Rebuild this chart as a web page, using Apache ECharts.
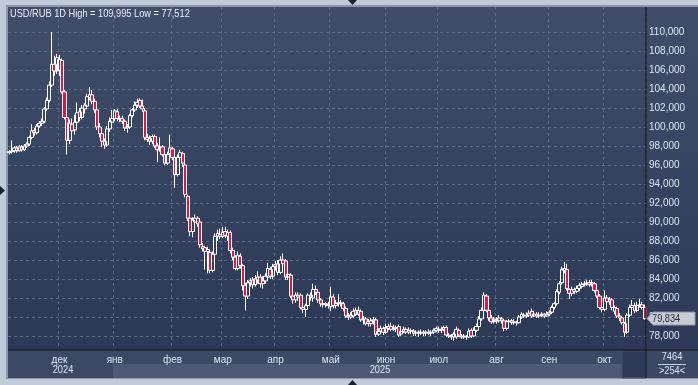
<!DOCTYPE html>
<html><head><meta charset="utf-8">
<script src="https://cdn.jsdelivr.net/npm/echarts@6/dist/echarts.min.js"></script>
<style>html,body{margin:0;padding:0;background:#bfcbd9;}#c{width:698px;height:385px;}</style>
</head><body><div id="c"></div>
<script>
// ---------- DATA ----------
const titleText = 'USD/RUB 1D High = 109,995 Low = 77,512';
const firstDate = '2024-11-04';           // first trading day shown
const monthNames = ['янв','фев','мар','апр','май','июн','июл','авг','сен','окт','ноя','дек'];
const yearLabels = ['2024', '2025'];
const yTickMin = 78, yTickMax = 110, yTickStep = 2;
const lastPrice = 79.834;
const totalBars = '7464';
const visibleBars = '>254<';
// daily candles: [open, close, low, high]
const ohlc = [
[97.3,97.4,97.1,97.6],[97.4,97.5,97.2,98.6],[97.5,97.8,97.3,98.0],[97.8,97.5,97.3,98.0],[97.5,97.9,97.4,98.1],
[97.9,97.6,97.4,98.1],[97.6,98.0,97.5,98.2],[98.0,98.2,97.8,98.4],[98.2,98.9,98.0,99.1],[98.9,99.6,98.7,100.3],
[99.6,99.4,99.1,99.9],[99.4,100.1,99.2,100.3],[100.1,100.4,99.9,100.6],[100.4,100.6,100.1,100.9],[100.6,101.9,100.4,102.1],
[101.9,102.8,101.7,103.1],[102.8,104.4,102.6,104.8],[104.4,106.6,104.2,109.995],[106.6,105.9,105.4,107.5],[105.9,107.3,105.6,107.7],
[106.0,107.1,105.4,107.6],[107.0,103.7,103.5,107.2],[103.7,101.0,100.8,103.9],[101.0,98.6,97.1,101.3],[98.6,100.4,98.2,100.8],
[100.3,99.6,98.6,100.9],[99.7,100.5,99.2,101.3],[100.5,101.5,100.1,102.6],[101.6,101.0,100.6,102.0],[101.0,102.0,100.8,102.3],
[101.9,102.3,101.4,102.5],[102.2,103.2,101.9,103.5],[103.1,103.4,102.8,104.2],[103.4,102.7,102.4,103.9],[102.7,101.8,101.5,103.0],
[101.8,100.0,99.7,102.0],[100.0,99.3,98.9,100.4],[99.3,98.5,97.9,99.6],[98.5,98.1,97.7,98.8],[98.1,99.8,97.9,100.1],
[99.8,100.6,99.5,101.0],[100.5,100.9,100.2,101.8],[100.9,101.7,100.6,101.9],[101.6,100.9,100.6,101.9],[100.8,100.9,100.5,101.2],
[100.9,100.6,100.3,101.2],[100.6,99.9,99.6,100.8],[99.9,100.0,99.4,100.3],[100.0,101.2,99.8,101.4],[101.2,101.8,101.0,102.0],
[101.8,102.3,101.6,102.7],[102.3,102.6,102.0,103.0],[102.8,102.2,102.0,103.0],[102.2,101.9,101.6,102.9],[101.7,98.9,98.6,102.0],
[98.9,98.7,98.4,99.3],[98.8,98.5,98.1,99.1],[98.5,99.0,98.2,99.2],[99.0,98.0,97.8,99.2],[98.0,97.6,96.3,98.3],
[97.6,97.9,97.4,98.9],[97.9,97.1,96.9,98.1],[97.1,96.2,96.0,97.4],[96.2,97.1,96.0,97.4],[97.2,97.8,97.0,99.2],
[97.7,96.8,96.5,97.9],[96.8,95.0,93.6,96.9],[95.0,96.8,94.8,97.1],[96.8,97.3,96.4,97.6],[97.2,96.2,95.8,97.4],
[96.0,92.9,92.6,96.2],[92.7,90.4,90.1,92.9],[90.4,89.0,88.5,90.6],[89.0,90.2,88.4,90.5],[90.0,90.4,89.6,90.8],
[90.4,89.8,89.5,90.6],[90.0,87.6,87.3,90.3],[87.4,87.2,86.9,87.8],[87.3,86.9,85.0,87.5],[86.9,87.1,84.6,87.4],
[86.8,84.9,84.6,87.1],[84.9,86.6,84.7,86.9],[86.6,88.5,86.4,88.8],[88.5,88.8,88.0,89.2],[88.7,88.5,88.2,89.3],
[88.5,88.9,88.3,89.5],[89.0,88.6,88.3,89.5],[88.5,88.9,88.0,89.2],[88.9,87.0,86.7,89.1],[87.0,86.3,86.0,87.3],
[86.3,85.1,84.9,86.5],[85.1,86.5,84.9,86.9],[86.4,85.4,85.1,86.7],[85.4,83.3,82.8,85.6],[83.3,82.2,80.7,83.6],
[82.2,83.6,81.9,83.9],[83.6,83.8,83.2,84.1],[83.9,83.4,83.0,84.2],[83.4,84.0,83.2,84.4],[83.9,84.2,83.5,84.8],
[84.2,83.5,83.1,84.5],[83.5,83.8,83.0,84.3],[83.8,84.3,83.5,84.6],[84.2,85.1,84.0,85.7],[85.0,84.3,84.0,85.3],
[84.3,85.3,84.0,85.6],[85.3,85.5,84.9,85.9],[85.6,84.7,84.4,86.0],[84.7,86.0,84.5,86.4],[86.0,85.6,85.3,86.7],
[85.9,84.2,83.9,86.1],[84.2,84.5,83.9,84.8],[84.4,82.2,82.0,84.6],[82.2,81.8,81.4,82.5],[81.8,82.3,81.5,82.6],
[82.3,82.1,81.7,82.6],[82.3,81.0,80.8,82.5],[81.0,80.8,80.4,81.5],[80.8,81.2,80.0,81.4],[81.2,82.3,81.0,82.5],
[82.3,82.1,81.7,82.6],[82.0,82.9,81.6,83.5],[82.9,82.6,82.3,83.3],[82.6,81.8,81.5,82.8],[81.8,81.4,81.1,82.0],
[81.4,81.3,81.0,81.6],[81.3,81.4,81.0,81.6],[81.3,81.2,80.9,81.6],[81.1,82.1,80.6,83.2],[82.1,81.2,80.9,82.4],
[81.2,81.4,80.9,81.8],[81.4,81.5,81.1,82.4],[81.5,81.4,81.1,81.8],[81.4,80.9,80.6,81.6],[80.9,80.1,79.9,81.1],
[80.1,80.0,79.7,80.4],[80.0,80.2,79.8,80.5],[80.1,80.6,79.9,80.9],[80.7,80.3,80.1,81.0],[80.3,80.7,80.1,81.1],
[80.6,79.7,79.5,80.8],[79.7,79.8,79.2,80.1],[79.8,79.3,79.1,80.0],[79.5,79.3,79.0,79.8],[79.3,79.6,79.0,79.9],
[79.6,79.7,79.2,80.0],[79.7,78.2,77.9,79.9],[78.2,78.5,78.0,78.8],[78.5,78.8,78.2,79.1],[78.8,78.4,78.1,79.0],
[78.4,78.9,78.2,79.3],[78.8,79.0,78.6,79.3],[79.0,78.7,78.5,79.4],[78.7,78.8,78.5,79.2],[78.8,78.9,78.4,79.1],
[79.0,78.1,77.9,79.2],[78.2,78.5,78.0,78.8],[78.5,78.7,78.3,79.0],[78.7,78.4,78.2,78.9],[78.4,78.6,78.2,78.9],
[78.5,78.6,78.2,78.8],[78.5,78.3,78.0,78.7],[78.3,78.4,78.0,78.6],[78.4,78.3,77.9,78.6],[78.3,78.4,78.1,78.7],
[78.4,78.3,78.0,78.6],[78.3,78.4,78.0,78.6],[78.4,78.3,78.1,78.7],[78.3,78.4,78.0,78.6],[78.4,78.6,78.2,78.8],
[78.6,78.8,78.4,79.0],[78.7,78.6,78.3,79.0],[78.6,78.7,78.3,79.0],[78.7,78.9,78.5,79.1],[78.9,78.1,77.9,79.1],
[78.1,78.0,77.8,78.3],[78.0,77.9,77.6,78.2],[77.9,78.2,77.512,78.4],[77.9,78.7,77.7,79.0],[78.6,78.1,77.9,78.8],
[78.0,77.9,77.7,78.2],[77.9,78.0,77.7,78.2],[77.9,77.95,77.6,78.1],[77.9,78.5,77.8,78.8],[78.6,78.0,77.8,78.8],
[78.0,78.6,77.9,78.9],[78.6,79.0,78.4,79.3],[79.0,79.8,78.8,80.1],[79.8,80.7,79.6,81.0],[80.7,82.3,80.5,82.6],
[82.2,80.7,80.5,82.4],[80.7,79.9,79.6,80.9],[79.9,79.5,79.3,80.2],[79.5,79.8,79.3,80.0],[79.7,79.6,79.3,80.0],
[79.6,79.9,79.4,80.2],[79.8,79.6,79.3,80.0],[79.6,78.8,78.5,79.7],[78.8,79.5,78.6,79.7],[79.5,79.6,79.2,79.8],
[79.6,79.4,79.2,79.8],[79.4,79.5,79.2,79.8],[79.4,79.4,79.1,79.6],[79.4,80.0,79.3,80.2],[80.0,80.3,79.8,80.5],
[80.2,80.1,79.9,80.4],[80.1,80.2,79.9,80.5],[80.2,80.4,80.0,80.7],[80.6,80.1,79.9,80.9],[80.1,80.3,80.0,80.6],
[80.3,80.1,79.9,80.5],[80.1,80.2,79.9,80.5],[80.2,80.3,80.0,80.5],[80.3,80.1,79.9,80.4],[80.1,80.3,80.0,80.6],
[80.3,80.5,80.1,80.7],[80.5,81.0,80.3,81.2],[81.0,81.4,80.8,81.6],[81.4,82.7,81.2,82.9],[82.6,83.5,82.4,83.8],
[83.6,85.0,83.4,85.3],[84.9,85.1,84.6,85.8],[85.0,83.0,82.8,85.6],[82.9,82.5,81.9,83.0],[82.5,82.9,82.2,83.2],
[82.9,82.7,82.4,83.1],[82.7,83.0,82.5,83.3],[83.0,83.3,82.7,83.6],[83.2,83.4,83.0,83.7],[83.4,83.5,83.2,83.8],
[83.5,83.6,83.3,83.9],[83.6,83.4,83.2,83.9],[83.4,83.6,83.2,83.9],[83.5,82.8,82.6,83.7],[82.8,82.2,82.0,83.0],
[82.2,81.0,80.8,82.4],[81.0,80.8,80.5,81.3],[80.8,82.0,80.6,82.8],[82.0,81.6,81.3,82.3],[81.6,81.8,81.3,82.1],
[81.8,81.0,80.7,82.0],[81.0,80.6,80.3,81.2],[80.9,80.1,79.9,81.1],[80.1,79.9,79.6,80.4],[79.9,79.4,79.2,80.0],
[79.3,78.4,77.9,79.5],[78.4,80.2,78.2,80.4],[80.2,81.0,80.0,81.3],[81.0,81.2,80.7,81.8],[81.2,80.7,80.4,81.5],
[80.7,81.2,80.5,81.6],[81.2,81.3,81.0,81.9],[81.3,81.0,80.8,81.6],[81.0,79.834,79.7,81.3]
];

// ---------- CATEGORIES (weekday dates) ----------
const dates = [];
{
  const d = new Date(firstDate + 'T00:00:00Z');
  while (dates.length < ohlc.length) {
    const wd = d.getUTCDay();
    if (wd !== 0 && wd !== 6) dates.push(d.toISOString().slice(0, 10));
    d.setUTCDate(d.getUTCDate() + 1);
  }
}
const isMonthStart = (i) => i > 0 && dates[i].slice(5, 7) !== dates[i - 1].slice(5, 7);

// ---------- LAYOUT / STYLE ----------
const FONT = "'Liberation Sans', Arial, sans-serif";
const L = { left: 8, top: 7, width: 638, height: 343, tickTop: 32, tickH: 304 };
const unitPerPx = (yTickMax - yTickMin) / L.tickH;
const yMax0 = yTickMax + (L.tickTop - L.top) * unitPerPx;
const yMin0 = yTickMin - (L.top + L.height - L.tickTop - L.tickH) * unitPerPx;
const gridColor = '#5a6985';
const textColor = '#dde6f3';
const NARROW = 0.84;

const chart = echarts.init(document.getElementById('c'), null, { renderer: 'canvas' });

const option = {
  backgroundColor: '#bfcbd9',
  animation: false,
  grid: [
    { left: L.left, top: L.top, width: L.width, height: L.height, containLabel: false },
    { left: L.left, top: L.tickTop, width: L.width, height: L.tickH, containLabel: false }
  ],
  xAxis: [
    {
      gridIndex: 0, type: 'category', data: dates, boundaryGap: true,
      axisLine: { show: false }, axisTick: { show: false },
      axisLabel: {
        interval: (i) => isMonthStart(i),
        formatter: (v) => monthNames[parseInt(v.slice(5, 7), 10) - 1],
        color: textColor, fontSize: 10, fontFamily: FONT, margin: 5
      },
      splitLine: { show: true, interval: (i) => isMonthStart(i), lineStyle: { color: gridColor, type: [3, 3], width: 1 } }
    },
    { gridIndex: 1, type: 'category', data: dates, show: false }
  ],
  yAxis: [
    { gridIndex: 0, type: 'value', min: yMin0, max: yMax0, show: false, splitLine: { show: false } },
    {
      gridIndex: 1, type: 'value', position: 'right', min: yTickMin, max: yTickMax, interval: yTickStep,
      axisLine: { show: false }, axisTick: { show: false },
      axisLabel: {
        color: textColor, fontSize: 10, fontFamily: FONT, margin: 3,
        formatter: (v) => v.toFixed(3).replace('.', ',')
      },
      splitLine: { show: true, lineStyle: { color: gridColor, type: [3, 3], width: 1 } }
    }
  ],
  series: [{
    type: 'candlestick',
    xAxisIndex: 0, yAxisIndex: 0,
    data: ohlc,
    barWidth: 3.6,
    clip: true,
    itemStyle: {
      color: 'rgba(0,0,0,0)', borderColor: '#ffffff',
      color0: '#e5163e', borderColor0: '#ffffff',
      borderWidth: 1
    }
  }]
};
chart.setOption(option);

// ---------- decorations ----------
const py = chart.convertToPixel({ yAxisIndex: 0 }, lastPrice);
const bg = -100;
const txt = (x, y, text, align, fill) => ({
  type: 'text', z: 21, x: x, y: y, scaleX: NARROW,
  style: { x: 0, y: 0, text: text, fill: fill || textColor, font: '11px ' + FONT, align: align || 'left', verticalAlign: 'middle' }
});
const graphics = [
  // outer frame
  { type: 'rect', z: bg, shape: { x: 6, y: 5, width: 692, height: 374 }, style: { fill: '#8c98aa' } },
  // plot panel
  { type: 'rect', z: bg, shape: { x: L.left, y: L.top, width: L.width, height: L.height },
    style: { fill: new echarts.graphic.LinearGradient(0, 0, 0, 1, [{ offset: 0, color: '#404e6a' }, { offset: 1, color: '#2b3856' }]) } },
  // right axis panel
  { type: 'rect', z: bg, shape: { x: 647, y: L.top, width: 51, height: L.height },
    style: { fill: new echarts.graphic.LinearGradient(0, 0, 0, 1, [{ offset: 0, color: '#404e6a' }, { offset: 1, color: '#2c3957' }]) } },
  // bottom axis panel
  { type: 'rect', z: bg, shape: { x: L.left, y: 351, width: 638, height: 27 }, style: { fill: '#3b4965' } },
  { type: 'rect', z: bg, shape: { x: 113, y: 364, width: 509, height: 14 }, style: { fill: '#4c5a76' } },
  { type: 'rect', z: bg, shape: { x: 622, y: 351, width: 24, height: 27 }, style: { fill: '#2d3a57', stroke: '#46536e', lineWidth: 1 } },
  // bottom-right box
  { type: 'rect', z: bg, shape: { x: 647, y: 351, width: 51, height: 27 }, style: { fill: '#3a4864' } },
  // separators
  { type: 'rect', z: 10, shape: { x: 645.5, y: L.top, width: 1.2, height: 371 }, style: { fill: '#0b0f18' } },
  { type: 'rect', z: 10, shape: { x: L.left, y: 349.5, width: 690, height: 1.2 }, style: { fill: '#0b0f18' } },
  // title
  txt(10, 14, titleText, 'left', '#e9eff8'),
  // years
  txt(63, 370, yearLabels[0], 'center'),
  txt(380, 370, yearLabels[1], 'center'),
  // bar counters
  txt(672, 357, totalBars, 'center'),
  { type: 'rect', z: 10, shape: { x: 658, y: 364, width: 28, height: 1 }, style: { fill: '#c9d3e0' } },
  txt(672, 371, visibleBars, 'center'),
  // last price tag
  { type: 'polygon', z: 20, shape: { points: [[647, py], [653, py - 6.5], [695, py - 6.5], [695, py + 6.5], [653, py + 6.5]] },
    style: { fill: '#c7ccd4', stroke: '#8f99a8', lineWidth: 1 } },
  txt(652, py, lastPrice.toFixed(3).replace('.', ','), 'left', '#1c2639'),
  // small navigation triangles
  { type: 'polygon', z: 10, shape: { points: [[348, 0], [357, 0], [352.5, 5]] }, style: { fill: '#1a2232' } },
  { type: 'polygon', z: 10, shape: { points: [[348, 385], [357, 385], [352.5, 380]] }, style: { fill: '#1a2232' } },
  { type: 'polygon', z: 10, shape: { points: [[0, 186], [0, 195], [5, 190.5]] }, style: { fill: '#1a2232' } }
];
chart.setOption({ graphic: graphics });
</script>
</body></html>
